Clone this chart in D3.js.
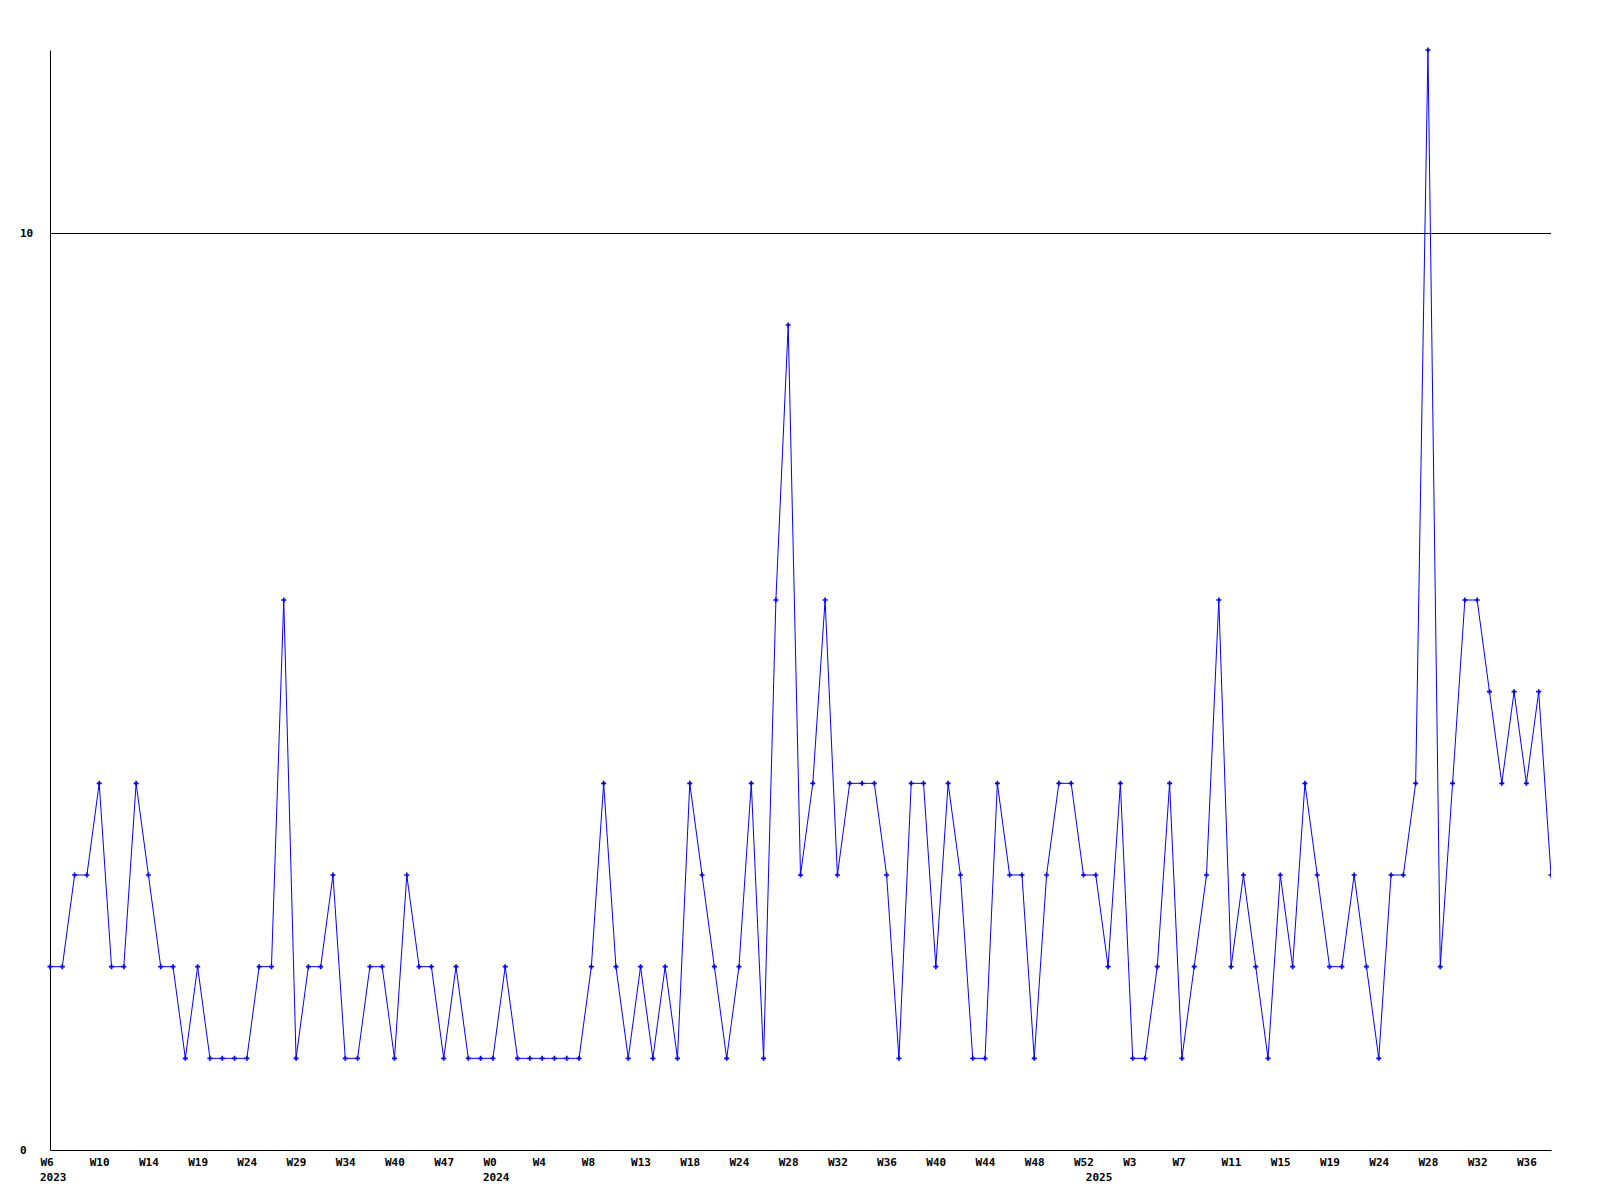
<!DOCTYPE html>
<html>
<head>
<meta charset="utf-8">
<script src="https://cdn.jsdelivr.net/npm/d3@7"></script>
<style>
  html, body { margin: 0; padding: 0; background: #fff; }
  svg text { font-family: "DejaVu Sans Mono", "Liberation Mono", monospace; font-weight: bold; font-size: 11px; fill: #000; }
</style>
</head>
<body>
<svg id="chart" width="1600" height="1200"></svg>
<script>
// Weekly values, one per point (123 points)
const values = [
  2,2,3,3,4,2,2,4,3,2,
  2,1,2,1,1,1,1,2,2,6,
  1,2,2,3,1,1,2,2,1,3,
  2,2,1,2,1,1,1,2,1,1,
  1,1,1,1,2,4,2,1,2,1,
  2,1,4,3,2,1,2,4,1,6,
  9,3,4,6,3,4,4,4,3,1,
  4,4,2,4,3,1,1,4,3,3,
  1,3,4,4,3,3,2,4,1,1,
  2,4,1,2,3,6,2,3,2,1,
  3,2,4,3,2,2,3,2,1,3,
  3,4,12,2,4,6,6,5,4,5,
  4,5,3
];
// Week labels shown every 4th point
const tickLabels = ["W6","W10","W14","W19","W24","W29","W34","W40","W47","W0","W4","W8","W13","W18","W24","W28","W32","W36","W40","W44","W48","W52","W3","W7","W11","W15","W19","W24","W28","W32","W36"];
const tickStep = 4;
// Year labels and the point index where each year starts
const yearNames = ["2023","2024","2025"];
const yearIndex = [0, 36, 85];
// Y axis labels / grid
const yTicks = [0, 10];
const yMax = 12;

const svg = d3.select("#chart");
const plotLeft = 50, plotRight = 1551, plotTop = 50, plotBottom = 1150;

const x = d3.scaleLinear().domain([0, values.length - 1]).range([plotLeft, plotRight]);
const y = d3.scaleLinear().domain([0, yMax]).range([plotBottom, plotTop]);

// Gridline at 10
svg.append("g").selectAll("line")
  .data(yTicks.filter(d => d > 0))
  .join("line")
  .attr("x1", plotLeft).attr("x2", plotRight)
  .attr("y1", d => Math.round(y(d)) + 0.5).attr("y2", d => Math.round(y(d)) + 0.5)
  .attr("stroke", "#000").attr("stroke-width", 1);

// Y labels
svg.append("g").selectAll("text")
  .data(yTicks)
  .join("text")
  .attr("x", 20)
  .attr("y", d => y(d) + 4)
  .text(d => d);

// Y axis line
const yAxis = d3.axisLeft(y).tickValues([]).tickSizeOuter(0);
svg.append("g").attr("transform", `translate(${plotLeft},0)`).call(yAxis)
  .select(".domain").attr("stroke", "#000");

// X axis
const tickIdx = tickLabels.map((_, i) => i * tickStep);
const xAxis = d3.axisBottom(x)
  .tickValues(tickIdx)
  .tickSize(0)
  .tickSizeOuter(0)
  .tickFormat((d, i) => tickLabels[i]);
const gx = svg.append("g").attr("transform", `translate(0,${plotBottom})`).call(xAxis);
gx.select(".domain").attr("stroke", "#000");
gx.selectAll("text")
  .attr("x", -10).attr("y", 16).attr("dy", null)
  .attr("text-anchor", "start")
  .style("font-family", "'DejaVu Sans Mono', monospace")
  .style("font-weight", "bold")
  .style("font-size", "11px")
  .attr("fill", "#000");

// Year labels
svg.append("g").selectAll("text")
  .data(yearNames)
  .join("text")
  .attr("x", (d, i) => x(yearIndex[i]) - 10)
  .attr("y", plotBottom + 31)
  .text(d => d);

// Clip
svg.append("clipPath").attr("id", "plotclip")
  .append("rect").attr("x", 0).attr("y", 0).attr("width", plotRight).attr("height", 1200);

const plot = svg.append("g").attr("clip-path", "url(#plotclip)");

const line = d3.line().x((d, i) => x(i)).y(d => y(d));
plot.append("path")
  .datum(values)
  .attr("d", line)
  .attr("fill", "none")
  .attr("stroke", "#0000ff")
  .attr("stroke-width", 1);

const marker = d3.symbol().type(d3.symbolCross).size(14);
plot.append("g").selectAll("path")
  .data(values)
  .join("path")
  .attr("transform", (d, i) => `translate(${x(i)},${y(d)})`)
  .attr("d", marker)
  .attr("fill", "#0000ff");
</script>
</body>
</html>
